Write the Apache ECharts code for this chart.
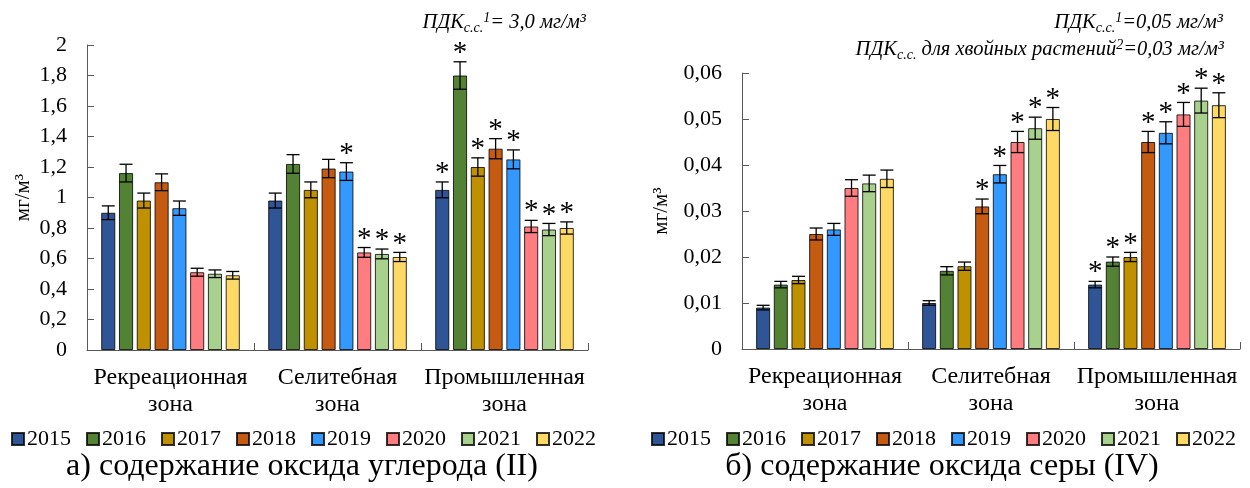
<!DOCTYPE html>
<html>
<head>
<meta charset="utf-8">
<script src="https://cdn.jsdelivr.net/npm/echarts@6/dist/echarts.min.js"></script>
<style>
  html, body { margin: 0; padding: 0; background: #fff; }
  #chart { width: 1250px; height: 488px; }
</style>
</head>
<body>
<div id="chart"></div>
<script>
// зоны и годы
const zones = ['Рекреационная\nзона', 'Селитебная\nзона', 'Промышленная\nзона'];
const years = ['2015', '2016', '2017', '2018', '2019', '2020', '2021', '2022'];
const colors = ['#2F5597', '#548235', '#BF9000', '#C55A11', '#3399FF', '#FF7C80', '#A9D18E', '#FFD966'];

// а) оксид углерода (II), мг/м3 — по годам: [рекреац., селитеб., промышл.]
const coValues = [
    [0.90, 0.98, 1.05],
    [1.16, 1.22, 1.80],
    [0.98, 1.05, 1.20],
    [1.10, 1.19, 1.32],
    [0.93, 1.17, 1.25],
    [0.51, 0.64, 0.81],
    [0.50, 0.63, 0.79],
    [0.49, 0.61, 0.80],
];
const coErrors = [
    [0.045, 0.049, 0.052],
    [0.058, 0.061, 0.090],
    [0.049, 0.052, 0.060],
    [0.055, 0.060, 0.066],
    [0.047, 0.058, 0.062],
    [0.026, 0.032, 0.040],
    [0.025, 0.032, 0.040],
    [0.025, 0.030, 0.040],
];
const coStars = [
    [0, 0, 1], [0, 0, 1], [0, 0, 1], [0, 0, 1],
    [0, 1, 1], [0, 1, 1], [0, 1, 1], [0, 1, 1],
];
const coTicks = [0, 0.2, 0.4, 0.6, 0.8, 1, 1.2, 1.4, 1.6, 1.8, 2];

// б) оксид серы (IV), мг/м3
const so2Values = [
    [0.009, 0.010, 0.014],
    [0.014, 0.017, 0.019],
    [0.015, 0.018, 0.020],
    [0.025, 0.031, 0.045],
    [0.026, 0.038, 0.047],
    [0.035, 0.045, 0.051],
    [0.036, 0.048, 0.054],
    [0.037, 0.050, 0.053],
];
const so2Errors = [
    [0.0005, 0.0005, 0.0007],
    [0.0007, 0.0009, 0.0010],
    [0.0008, 0.0009, 0.0010],
    [0.0013, 0.0016, 0.0023],
    [0.0013, 0.0019, 0.0024],
    [0.0018, 0.0023, 0.0026],
    [0.0018, 0.0024, 0.0027],
    [0.0019, 0.0025, 0.0027],
];
const so2Stars = [
    [0, 0, 1], [0, 0, 1], [0, 0, 1], [0, 1, 1],
    [0, 1, 1], [0, 1, 1], [0, 1, 1], [0, 1, 1],
];
const so2Ticks = [0, 0.01, 0.02, 0.03, 0.04, 0.05, 0.06];

const FONT = 'Liberation Serif';
const CAT_GAP = 0.17;
const BAR_GAP = 0.26;

const fmt = v => String(Number(v.toFixed(3))).replace('.', ',');

// планки погрешностей и звёздочки
const renderErr = (params, api) => {
    const zone = api.value(0);
    const val = api.value(1);
    const err = api.value(2);
    const star = api.value(3);
    const yi = api.value(4);
    const n = years.length;
    const catW = api.size([1, 0])[0];
    const usable = catW * (1 - CAT_GAP);
    const bw = usable / (n + (n - 1) * BAR_GAP);
    const cx = api.coord([zone, 0])[0] - usable / 2 + yi * bw * (1 + BAR_GAP) + bw / 2;
    const top = api.coord([zone, val + err])[1];
    const bot = api.coord([zone, val - err])[1];
    const cap = 6.5;
    const ls = { stroke: '#000', lineWidth: 1.3 };
    const children = [
        { type: 'line', shape: { x1: cx, y1: top, x2: cx, y2: bot }, style: ls },
        { type: 'line', shape: { x1: cx - cap, y1: top, x2: cx + cap, y2: top }, style: ls },
        { type: 'line', shape: { x1: cx - cap, y1: bot, x2: cx + cap, y2: bot }, style: ls },
    ];
    if (star) {
        children.push({
            type: 'text',
            x: cx,
            y: top + 6,
            style: {
                text: '*',
                textAlign: 'center',
                textVerticalAlign: 'bottom',
                fontSize: 29,
                fontFamily: FONT,
                fill: '#000',
            },
        });
    }
    return { type: 'group', children };
};

const makeSeries = (values, errors, stars, idx) => {
    const out = [];
    years.forEach((y, i) => {
        out.push({
            name: y,
            type: 'bar',
            xAxisIndex: idx,
            yAxisIndex: idx,
            data: values[i],
            barCategoryGap: (CAT_GAP * 100) + '%',
            barGap: (BAR_GAP * 100) + '%',
            itemStyle: {
                color: colors[i],
                borderColor: 'rgba(0,0,0,0.8)',
                borderWidth: 1,
            },
        });
    });
    const errData = [];
    years.forEach((y, i) => {
        zones.forEach((z, j) => {
            errData.push([j, values[i][j], errors[i][j], stars[i][j], i]);
        });
    });
    out.push({
        type: 'custom',
        xAxisIndex: idx,
        yAxisIndex: idx,
        renderItem: renderErr,
        data: errData,
        encode: { x: 0, y: 1 },
        z: 5,
        silent: true,
    });
    return out;
};

const axisLineStyle = { color: '#595959', width: 1 };

const xAxisCfg = gi => ({
    type: 'category',
    gridIndex: gi,
    data: zones,
    axisLine: { lineStyle: axisLineStyle },
    axisTick: { show: true, inside: true, length: 7, lineStyle: axisLineStyle },
    axisLabel: {
        interval: 0,
        hideOverlap: false,
        fontFamily: FONT,
        fontSize: 24,
        lineHeight: 27,
        color: '#000',
        margin: 14,
    },
});

const yAxisCfg = (gi, max, interval, gap) => ({
    type: 'value',
    gridIndex: gi,
    min: 0,
    max: max,
    interval: interval,
    name: 'мг/м³',
    nameLocation: 'middle',
    nameGap: gap,
    nameTextStyle: { fontFamily: FONT, fontSize: 21, color: '#000' },
    axisLine: { show: true, lineStyle: axisLineStyle },
    axisTick: { show: true, inside: true, length: 7, lineStyle: axisLineStyle },
    splitLine: { show: false },
    axisLabel: {
        fontFamily: FONT,
        fontSize: 22,
        color: '#000',
        margin: 20,
        formatter: fmt,
    },
});

const legendCfg = left => ({
    data: years,
    left: left,
    top: 423,
    itemWidth: 12,
    itemHeight: 12,
    itemGap: 15,
    icon: 'rect',
    textStyle: { fontFamily: FONT, fontSize: 22, color: '#000', padding: [0, 0, 0, -2] },
});

const annoRich = {
    m: { fontFamily: FONT, fontStyle: 'italic', fontSize: 20.5, color: '#000', lineHeight: 24, verticalAlign: 'middle' },
    sb: { fontFamily: FONT, fontStyle: 'italic', fontSize: 14, color: '#000', lineHeight: 14, verticalAlign: 'bottom' },
    sp: { fontFamily: FONT, fontStyle: 'italic', fontSize: 14, color: '#000', lineHeight: 14, verticalAlign: 'top' },
};

const option = {
    animation: false,
    textStyle: { fontFamily: FONT },
    color: colors,
    title: [
        {
            text: 'а) содержание оксида углерода (II)',
            left: 302,
            top: 451,
            padding: 0,
            textAlign: 'center',
            textStyle: { fontFamily: FONT, fontSize: 32, fontWeight: 'normal', color: '#000' },
        },
        {
            text: 'б) содержание оксида серы (IV)',
            left: 942,
            top: 451,
            padding: 0,
            textAlign: 'center',
            textStyle: { fontFamily: FONT, fontSize: 32, fontWeight: 'normal', color: '#000' },
        },
    ],
    legend: [legendCfg(6), legendCfg(646)],
    grid: [
        { left: 87, top: 45, width: 501, height: 305 },
        { left: 742, top: 73, width: 498, height: 276 },
    ],
    xAxis: [xAxisCfg(0), xAxisCfg(1)],
    yAxis: [
        yAxisCfg(0, coTicks[coTicks.length - 1], coTicks[1] - coTicks[0], 53),
        yAxisCfg(1, so2Ticks[so2Ticks.length - 1], so2Ticks[1] - so2Ticks[0], 70),
    ],
    graphic: [
        {
            type: 'text',
            right: 664,
            top: 11,
            style: {
                text: '{m|ПДК}{sb|с.с.}{sp|1}{m|= 3,0 мг/м³}',
                rich: annoRich,
            },
        },
        {
            type: 'text',
            right: 27,
            top: 11,
            style: {
                text: '{m|ПДК}{sb|с.с.}{sp|1}{m|=0,05 мг/м³}',
                rich: annoRich,
            },
        },
        {
            type: 'text',
            right: 26,
            top: 38,
            style: {
                text: '{m|ПДК}{sb|с.с.}{m| для хвойных растений}{sp|2}{m|=0,03 мг/м³}',
                rich: annoRich,
            },
        },
    ],
    series: [
        ...makeSeries(coValues, coErrors, coStars, 0),
        ...makeSeries(so2Values, so2Errors, so2Stars, 1),
    ],
};

const chart = echarts.init(document.getElementById('chart'));
chart.setOption(option);
</script>
</body>
</html>
